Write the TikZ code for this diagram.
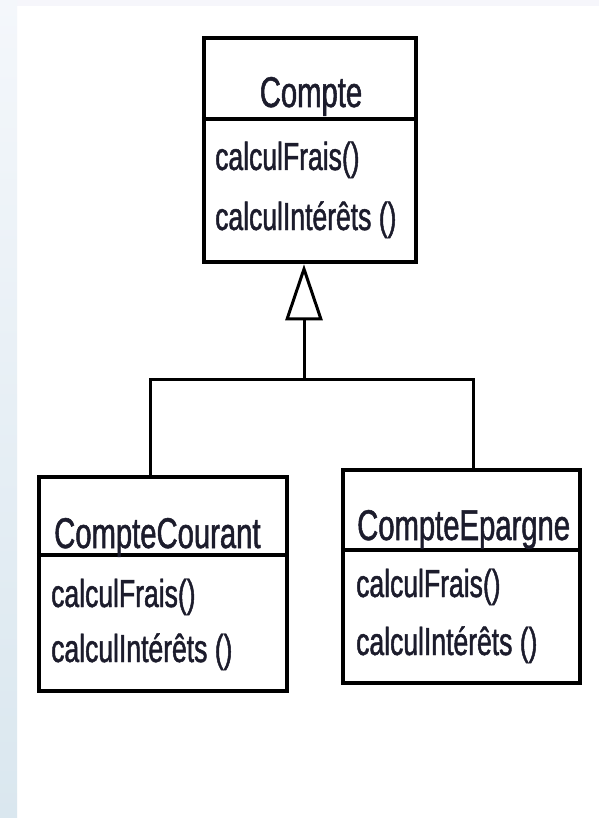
\documentclass[tikz,border=0pt]{standalone}
\usepackage{fontspec}
\usetikzlibrary{arrows.meta}
\newfontfamily\umlfont[FakeStretch=0.68,FakeBold=1.2]{Liberation Sans}
\definecolor{txt}{HTML}{1C1C2C}
\definecolor{stripTop}{HTML}{F4F7FB}
\definecolor{stripBot}{HTML}{DAE7EF}
\definecolor{bandTop}{HTML}{F6F6FB}
\begin{document}
\begin{tikzpicture}[x=1pt,y=-1pt,
  classbox/.style={draw, line width=4.5pt, inner sep=0pt, fill=white},
  divider/.style={line width=4.5pt},
  conn/.style={line width=3pt},
  hdr/.style={inner sep=0pt, text=txt, font=\umlfont\fontsize{43}{48}\selectfont},
  meth/.style={inner sep=0pt, text=txt, anchor=base west, font=\umlfont\fontsize{39}{44}\selectfont},
  gen/.style={conn, -{Triangle[open, length=56pt, width=37pt, line width=3pt]}}
]
% page background with the pale side strip
\fill[white] (0,0) rectangle (599,818);
\fill[bandTop] (0,0) rectangle (599,6);
\shade[top color=stripTop, bottom color=stripBot] (0,0) rectangle (17,818);
\useasboundingbox (0,0) rectangle (599,818);

% class frames
\node[classbox, minimum width=212pt, minimum height=224pt] (compte) at (310,150) {};
\node[classbox, minimum width=248pt, minimum height=214pt] (cc) at (163,584) {};
\node[classbox, minimum width=237pt, minimum height=213pt] (ce) at (461.5,576.5) {};

% compartment dividers
\draw[divider] (compte.west |- 0,119) -- (compte.east |- 0,119);
\draw[divider] (cc.west |- 0,555) -- (cc.east |- 0,555);
\draw[divider] (ce.west |- 0,550) -- (ce.east |- 0,550);

% Compte
\node[hdr, anchor=base] (compteName) at (311,107) {Compte};
\node[meth] (compteM1) at (215,170) {calculFrais()};
\node[meth] (compteM2) at (215,230) {calculIntérêts ()};

% CompteCourant
\node[hdr, anchor=base west] (ccName) at (54,548) {CompteCourant};
\node[meth] (ccM1) at (51,607) {calculFrais()};
\node[meth] (ccM2) at (51,662) {calculIntérêts ()};

% CompteEpargne
\node[hdr, anchor=base west] (ceName) at (357,540) {CompteEpargne};
\node[meth] (ceM1) at (356,597) {calculFrais()};
\node[meth] (ceM2) at (356,655) {calculIntérêts ()};

% generalisation tree
\coordinate (bar) at (304,379);
\coordinate (barL) at (150,379);
\coordinate (barR) at (473,379);
\draw[conn] (barL |- cc.north) -- (barL) -- (barR) -- (barR |- ce.north);
\draw[gen] (bar) -- (bar |- compte.south);
\end{tikzpicture}
\end{document}
